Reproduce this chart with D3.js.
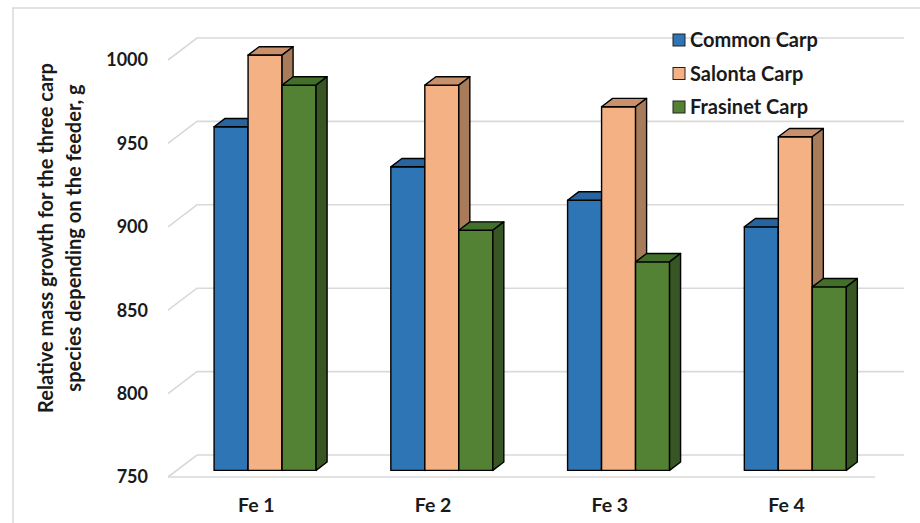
<!DOCTYPE html>
<html>
<head>
<meta charset="utf-8">
<script src="https://cdn.jsdelivr.net/npm/d3@7/dist/d3.min.js"></script>
<style>
  html, body { margin: 0; padding: 0; background: #ffffff; }
  svg { display: block; }
  text { font-family: Lato, "Open Sans", sans-serif; fill: #1a1a1a; }
</style>
</head>
<body>
<svg id="chart" width="920" height="523"></svg>
<script>
// Feeders and relative mass growth (g) per carp species
const categories = ["Fe 1", "Fe 2", "Fe 3", "Fe 4"];
const seriesNames = ["Common Carp", "Salonta Carp", "Frasinet Carp"];
const commonCarp = [956, 932, 912, 896];
const salontaCarp = [999, 981, 968, 950];
const frasinetCarp = [981, 894, 875, 860];
const yTicks = [750, 800, 850, 900, 950, 1000];

const seriesValues = [commonCarp, salontaCarp, frasinetCarp];
const palette = [
  { front: "#2e75b6", top: "#28649d", side: "#1f4e79" },
  { front: "#f4b183", top: "#c8916b", side: "#a87c5a" },
  { front: "#548235", top: "#42702a", side: "#375623" }
];

const svg = d3.select("#chart");

// Front plane of the 3D plot box, plus the depth offset of the back wall
const left = 168, right = 875;
const depthX = 29, depthY = 22;
const zFront = 0.3, zBack = 0.68;   // bar depth inside the box (0 = front, 1 = back)

const x = d3.scaleBand().domain(categories).range([left, right])
  .paddingInner(0.423).paddingOuter(0.2115);
const y = d3.scaleLinear().domain([750, 1000]).range([477, 60]);

const proj = (px, py, z) => [px + z * depthX, py - z * depthY];
const poly = pts => "M" + pts.map(p => proj(p[0], p[1], p[2]).join(",")).join("L") + "Z";

// Outer frame
svg.append("path")
  .attr("d", "M13,523V8H920")
  .attr("fill", "none").attr("stroke", "#d9d9d9").attr("stroke-width", 1.5);

// Gridlines: left wall diagonals and back wall horizontals
const grid = svg.append("g").attr("stroke", "#d9d9d9").attr("stroke-width", 1.6).attr("fill", "none");
yTicks.forEach(t => {
  const a = proj(left, y(t), 0), b = proj(left, y(t), 1), c = proj(right, y(t), 1);
  grid.append("path").attr("d", `M${a}L${b}L${c}`);
});
// Floor front edge
grid.append("path").attr("d", `M${proj(left, y(750), 0)}L${proj(right, y(750), 0)}`);

// Y tick labels
svg.append("g").selectAll("text").data(yTicks).join("text")
  .attr("x", 148).attr("y", d => y(d)).attr("dy", "0.35em")
  .attr("text-anchor", "end").attr("font-size", 18).attr("font-weight", 700)
  .text(d => d);

// Category labels
svg.append("g").selectAll("text").data(categories).join("text")
  .attr("x", d => x(d) + x.bandwidth() / 2).attr("y", 512)
  .attr("text-anchor", "middle").attr("font-size", 19.5).attr("font-weight", 700)
  .text(d => d);

// Y axis title (two lines)
const title = svg.append("text")
  .attr("transform", "translate(61,238) rotate(-90)")
  .attr("text-anchor", "middle").attr("font-size", 20).attr("font-weight", 700);
title.append("tspan").attr("x", 0).attr("dy", "-0.38em").text("Relative mass growth for the three carp");
title.append("tspan").attr("x", 0).attr("dy", "1.38em").text("species depending on the feeder, g");

// Bars, drawn left to right so nearer faces cover hidden sides
const barW = x.bandwidth() / seriesNames.length;
const bars = svg.append("g").attr("stroke", "#000").attr("stroke-width", 1.4).attr("stroke-linejoin", "round");
categories.forEach((cat, ci) => {
  seriesValues.forEach((vals, si) => {
    const x0 = x(cat) + si * barW, x1 = x0 + barW;
    const yt = y(vals[ci]), yb = y(750);
    const g = bars.append("g");
    g.append("path").attr("fill", palette[si].front)
      .attr("d", poly([[x0, yt, zFront], [x1, yt, zFront], [x1, yb, zFront], [x0, yb, zFront]]));
    g.append("path").attr("fill", palette[si].top)
      .attr("d", poly([[x0, yt, zFront], [x1, yt, zFront], [x1, yt, zBack], [x0, yt, zBack]]));
    g.append("path").attr("fill", palette[si].side)
      .attr("d", poly([[x1, yt, zFront], [x1, yt, zBack], [x1, yb, zBack], [x1, yb, zFront]]));
  });
});

// Legend
const legend = svg.append("g");
seriesNames.forEach((name, i) => {
  const cy = 40 + i * 33.5;
  legend.append("rect").attr("x", 673).attr("y", cy - 6).attr("width", 12).attr("height", 12)
    .attr("fill", palette[i].front).attr("stroke", "#222").attr("stroke-width", 1);
  legend.append("text").attr("x", 690).attr("y", cy).attr("dy", "0.36em")
    .attr("font-size", 20).attr("font-weight", 700).text(name);
});
</script>
</body>
</html>
